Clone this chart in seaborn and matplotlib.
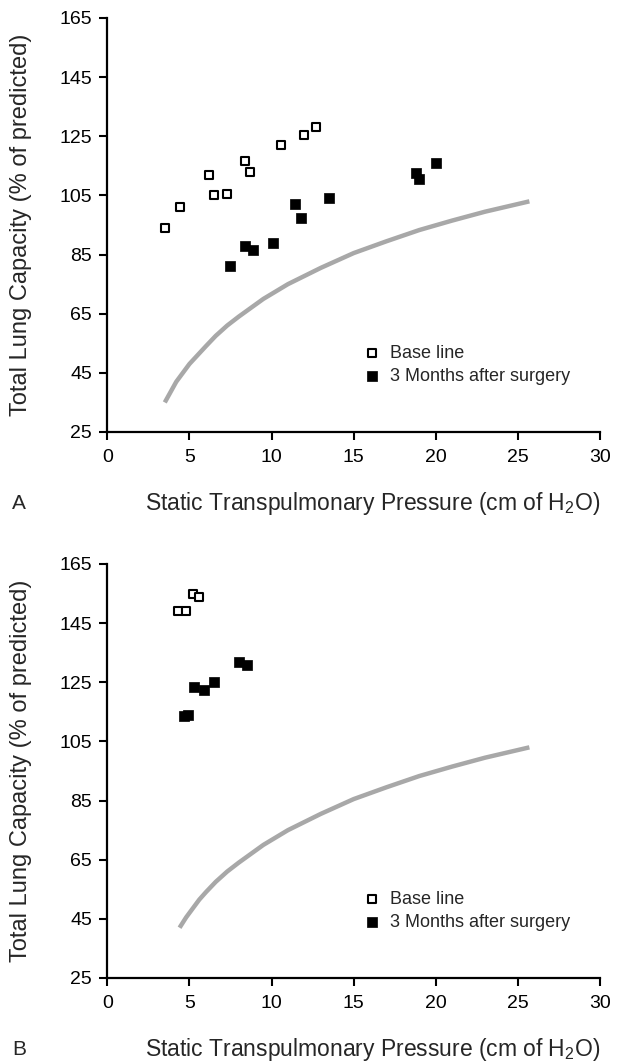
import matplotlib
matplotlib.use("Agg")
import matplotlib.pyplot as plt
import seaborn as sns
import pandas as pd

# ---- data ----
base_x_A = [3.5, 4.4, 6.2, 6.5, 7.3, 8.4, 8.7, 10.6, 12.0, 12.7]
base_y_A = [94, 101, 112, 105, 105.5, 116.5, 113, 122, 125.5, 128]
post_x_A = [7.5, 8.4, 8.9, 10.1, 11.4, 11.8, 13.5, 18.8, 19.0, 20.0]
post_y_A = [81, 88, 86.5, 89, 102, 97.5, 104, 112.5, 110.5, 116]

base_x_B = [4.3, 4.8, 5.2, 5.6]
base_y_B = [149, 149, 155, 154]
post_x_B = [4.7, 4.9, 5.3, 5.9, 6.5, 8.0, 8.5]
post_y_B = [113.5, 114, 123.5, 122.5, 125, 132, 131]

curve_x_A = [3.5, 3.8, 4.2, 4.6, 5.0, 5.5, 6.0, 6.6, 7.3, 8.0, 9.5, 11.0, 13.0, 15.0, 17.0, 19.0, 21.0, 23.0, 25.7]
curve_y_A = [35, 38, 42, 45, 48, 51, 54, 57.5, 61, 64, 70, 75, 80.5, 85.5, 89.5, 93.3, 96.5, 99.5, 103]
curve_x_B = [4.4, 4.8, 5.2, 5.6, 6.0, 6.6, 7.3, 8.0, 9.5, 11.0, 13.0, 15.0, 17.0, 19.0, 21.0, 23.0, 25.7]
curve_y_B = [42, 45.5, 48.5, 51.5, 54, 57.5, 61, 64, 70, 75, 80.5, 85.5, 89.5, 93.3, 96.5, 99.5, 103]

x_ticks = [0, 5, 10, 15, 20, 25, 30]
y_ticks = [25, 45, 65, 85, 105, 125, 145, 165]
legend_labels = ["Base line", "3 Months after surgery"]
panel_labels = ["A", "B"]
x_label = "Static Transpulmonary Pressure (cm of H$_2$O)"
y_label = "Total Lung Capacity (% of predicted)"

sns.set_style("ticks")
plt.rcParams["font.family"] = ["Liberation Sans", "DejaVu Sans"]
plt.rcParams["mathtext.fontset"] = "custom"
plt.rcParams["mathtext.rm"] = "Liberation Sans"
plt.rcParams["mathtext.it"] = "Liberation Sans"

W, H = 619, 1062
fig = plt.figure(figsize=(W / 100, H / 100), dpi=100)
fig.patch.set_facecolor("white")

left = 107.3 / W
width = (600 - 107.3) / W
ax_h = 414 / H
axA = fig.add_axes([left, 1 - 432 / H, width, ax_h])
axB = fig.add_axes([left, 1 - 978 / H, width, ax_h])

panels = [
    (axA, base_x_A, base_y_A, post_x_A, post_y_A, curve_x_A, curve_y_A, panel_labels[0]),
    (axB, base_x_B, base_y_B, post_x_B, post_y_B, curve_x_B, curve_y_B, panel_labels[1]),
]

for ax, bx, by, px, py, cx, cy, plab in panels:
    ax.set_facecolor("white")
    dfc = pd.DataFrame({"x": cx, "y": cy})
    sns.lineplot(data=dfc, x="x", y="y", ax=ax, color="#a8a8a8", linewidth=3.2,
                 sort=False, estimator=None, solid_capstyle="butt")
    dfb = pd.DataFrame({"x": bx, "y": by})
    dfp = pd.DataFrame({"x": px, "y": py})
    sns.scatterplot(data=dfb, x="x", y="y", ax=ax, marker="s", s=40,
                    facecolor="white", edgecolor="black", linewidth=1.5,
                    label=legend_labels[0], zorder=3)
    sns.scatterplot(data=dfp, x="x", y="y", ax=ax, marker="s", s=55,
                    color="black", edgecolor="black", linewidth=0.5,
                    label=legend_labels[1], zorder=3)
    ax.set_xlim(0, 30)
    ax.set_ylim(25, 165)
    ax.set_xticks(x_ticks)
    ax.set_yticks(y_ticks)
    sns.despine(ax=ax)
    for sp in ["left", "bottom"]:
        ax.spines[sp].set_linewidth(1.6)
        ax.spines[sp].set_color("black")
    ax.tick_params(axis="both", direction="out", length=6, width=1.5,
                   labelsize=14, colors="black")
    ax.tick_params(axis="x", pad=6)
    ax.tick_params(axis="y", pad=5)
    ax.set_xlabel(x_label, fontsize=16.5)
    ax.xaxis.label.set_verticalalignment("center")
    ax.xaxis.set_label_coords(0.538, -0.172)
    ax.set_ylabel(y_label, fontsize=17)
    ax.yaxis.set_label_coords(-0.153, 0.5)
    ax.text(-0.179, -0.172, plab, transform=ax.transAxes, fontsize=15,
            ha="center", va="center")
    ax.legend(loc="center left", bbox_to_anchor=(0.522, 0.162),
              frameon=False, fontsize=13, handlelength=0.8,
              handletextpad=0.6, labelspacing=0.3, borderpad=0,
              borderaxespad=0)

fig.savefig("out.png", dpi=100, facecolor="white")
